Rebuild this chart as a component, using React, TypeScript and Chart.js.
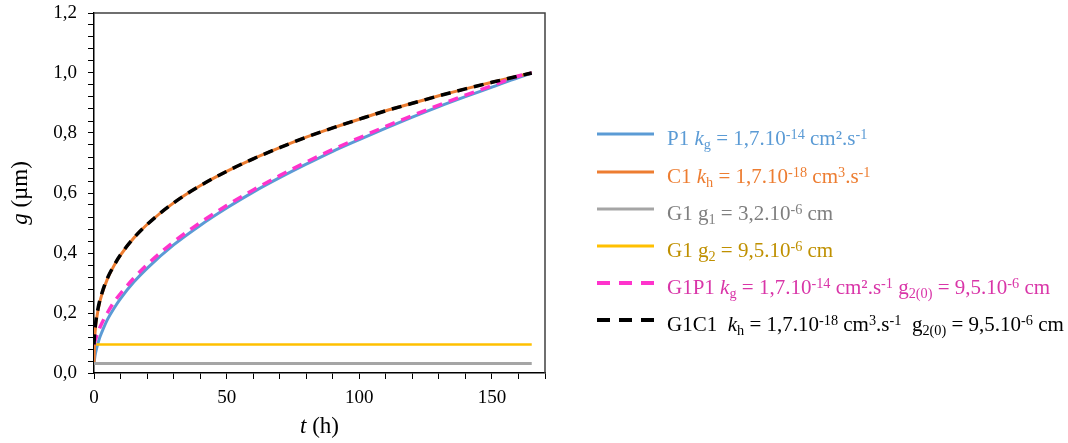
import React, { useEffect, useRef } from "react";
import { Chart, registerables } from "chart.js";

Chart.register(...registerables);

// time points (h)
const times = [0, 0.25, 0.5, 1, 2, 3, 5, 7.5, 10, 15, 20, 30, 40, 50, 60, 70, 80, 90, 100, 110, 120, 130, 140, 150, 160, 165];

// P1 parabolic growth (µm)
const p1Values = [0.03, 0.049, 0.063, 0.083, 0.114, 0.137, 0.177, 0.215, 0.248, 0.303, 0.349, 0.427, 0.492, 0.55, 0.603, 0.651, 0.696, 0.739, 0.778, 0.816, 0.853, 0.888, 0.921, 0.953, 0.985, 1.0];
// C1 cubic growth
const c1Values = [0.03, 0.115, 0.145, 0.182, 0.23, 0.263, 0.312, 0.357, 0.393, 0.45, 0.495, 0.567, 0.624, 0.672, 0.714, 0.751, 0.786, 0.817, 0.846, 0.874, 0.899, 0.924, 0.947, 0.969, 0.99, 1.0];
// G1P1
const g1p1Values = [0.095, 0.103, 0.11, 0.123, 0.147, 0.167, 0.2, 0.236, 0.265, 0.316, 0.361, 0.437, 0.501, 0.558, 0.61, 0.658, 0.703, 0.745, 0.784, 0.822, 0.858, 0.893, 0.926, 0.958, 0.99, 1.0];
// G1C1
const g1c1Values = [0.095, 0.133, 0.157, 0.19, 0.235, 0.267, 0.315, 0.358, 0.394, 0.45, 0.495, 0.567, 0.624, 0.672, 0.714, 0.751, 0.786, 0.817, 0.846, 0.874, 0.899, 0.924, 0.947, 0.969, 0.99, 1.0];

// constant lines
const g1Times = [0, 165];
const g1Values = [0.032, 0.032];
const g2Times = [0.8, 165];
const g2Values = [0.095, 0.095];

const xTickStep = 10;
const xLabelEvery = 50;
const yTickStep = 0.04;

const BLUE = "#5B9BD5";
const ORANGE = "#ED7D31";
const GREY = "#A5A5A5";
const YELLOW = "#FFC000";
const PINK = "#FF33CC";
const BLACK = "#000000";

const FONT = "'Liberation Serif', 'Times New Roman', serif";

function pts(xs: number[], ys: number[]) {
  return xs.map((x, i) => ({ x, y: ys[i] }));
}

const axisTitlePlugin = {
  id: "axisTitles",
  afterDraw(chart: any) {
    const ctx = chart.ctx as CanvasRenderingContext2D;
    const ca = chart.chartArea;
    ctx.save();
    // frame
    ctx.strokeStyle = "#404040";
    ctx.lineWidth = 1.5;
    ctx.beginPath();
    ctx.moveTo(ca.left, ca.top);
    ctx.lineTo(ca.right, ca.top);
    ctx.lineTo(ca.right, ca.bottom);
    ctx.stroke();
    ctx.fillStyle = "#000";
    ctx.textBaseline = "alphabetic";
    const drawParts = (parts: [string, boolean][], cx: number, cy: number, rotate: boolean) => {
      ctx.save();
      ctx.translate(cx, cy);
      if (rotate) ctx.rotate(-Math.PI / 2);
      let total = 0;
      const widths = parts.map(([t, it]) => {
        ctx.font = `${it ? "italic " : ""}23px ${FONT}`;
        const w = ctx.measureText(t).width;
        total += w;
        return w;
      });
      let x = -total / 2;
      parts.forEach(([t, it], i) => {
        ctx.font = `${it ? "italic " : ""}23px ${FONT}`;
        ctx.textAlign = "left";
        ctx.fillText(t, x, 0);
        x += widths[i];
      });
      ctx.restore();
    };
    drawParts([["t", true], [" (h)", false]], (ca.left + ca.right) / 2, 433, false);
    drawParts([["g", true], [" (µm)", false]], 27, (ca.top + ca.bottom) / 2, true);
    ctx.restore();
  },
};

type Row = { color: string; dash: boolean; textColor: string; content: React.ReactNode };

const subStyle: React.CSSProperties = { fontSize: "0.68em", position: "relative", top: "0.3em", verticalAlign: "baseline" };
const supStyle: React.CSSProperties = { fontSize: "0.68em", position: "relative", top: "-0.45em", verticalAlign: "baseline" };
const Sub = ({ c }: { c: string }) => <span style={subStyle}>{c}</span>;
const Sup = ({ c }: { c: string }) => <span style={supStyle}>{c}</span>;

const legendRows: Row[] = [
  {
    color: BLUE, dash: false, textColor: "#5B9BD5",
    content: <>P1 <i>k</i><Sub c="g" /> = 1,7.10<Sup c="-14" /> cm².s<Sup c="-1" /></>,
  },
  {
    color: ORANGE, dash: false, textColor: "#ED7D31",
    content: <>C1 <i>k</i><Sub c="h" /> = 1,7.10<Sup c="-18" /> cm<Sup c="3" />.s<Sup c="-1" /></>,
  },
  {
    color: GREY, dash: false, textColor: "#7F7F7F",
    content: <>G1 g<Sub c="1" /> = 3,2.10<Sup c="-6" /> cm</>,
  },
  {
    color: YELLOW, dash: false, textColor: "#BF9000",
    content: <>G1 g<Sub c="2" /> = 9,5.10<Sup c="-6" /> cm</>,
  },
  {
    color: PINK, dash: true, textColor: "#D935A8",
    content: <>G1P1 <i>k</i><Sub c="g" /> = 1,7.10<Sup c="-14" /> cm².s<Sup c="-1" /> g<Sub c="2(0)" /> = 9,5.10<Sup c="-6" /> cm</>,
  },
  {
    color: BLACK, dash: true, textColor: "#000000",
    content: <>G1C1{"\u00a0 "}<i>k</i><Sub c="h" /> = 1,7.10<Sup c="-18" /> cm<Sup c="3" />.s<Sup c="-1" />{"\u00a0 "}g<Sub c="2(0)" /> = 9,5.10<Sup c="-6" /> cm</>,
  },
];
const legendCenters = [134, 172, 209, 246, 283, 320];

export default function App() {
  const ref = useRef<HTMLCanvasElement | null>(null);
  useEffect(() => {
    if (!ref.current) return;
    const common = { pointRadius: 0, fill: false, cubicInterpolationMode: "monotone" as const };
    const chart = new Chart(ref.current, {
      type: "line",
      data: {
        datasets: [
          { label: "P1", data: pts(times, p1Values), borderColor: BLUE, borderWidth: 3, order: 5, ...common },
          { label: "C1", data: pts(times, c1Values), borderColor: ORANGE, borderWidth: 3, order: 4, ...common },
          { label: "G1 g1", data: pts(g1Times, g1Values), borderColor: GREY, borderWidth: 3, order: 3, ...common },
          { label: "G1 g2", data: pts(g2Times, g2Values), borderColor: YELLOW, borderWidth: 2.5, order: 2, ...common },
          { label: "G1P1", data: pts(times, g1p1Values), borderColor: PINK, borderWidth: 3.5, borderDash: [10, 7], order: 1, ...common },
          { label: "G1C1", data: pts(times, g1c1Values), borderColor: BLACK, borderWidth: 3.5, borderDash: [10, 7], order: 0, ...common },
        ],
      },
      options: {
        responsive: false,
        animation: false,
        devicePixelRatio: 1,
        events: [],
        layout: { padding: { top: 13, right: 523, left: 0, bottom: 0 } },
        plugins: { legend: { display: false }, tooltip: { enabled: false } },
        scales: {
          x: {
            type: "linear",
            min: 0,
            max: 170,
            afterFit: (s: any) => { s.height = 70; s.paddingLeft = 0; s.paddingRight = 0; },
            grid: { display: true, drawOnChartArea: false, drawTicks: true, tickLength: 6, tickColor: "#000", tickWidth: 1 },
            border: { display: true, color: "#000", width: 1.5 },
            ticks: {
              stepSize: xTickStep,
              autoSkip: false,
              maxRotation: 0,
              padding: 8,
              color: "#000",
              font: { family: FONT, size: 19 },
              callback: (v: any) => (Number(v) % xLabelEvery === 0 ? String(v) : ""),
            },
          },
          y: {
            type: "linear",
            min: 0,
            max: 1.2,
            afterFit: (s: any) => { s.width = 94; s.paddingTop = 0; s.paddingBottom = 0; },
            grid: { display: true, drawOnChartArea: false, drawTicks: true, tickLength: 6, tickColor: "#000", tickWidth: 1 },
            border: { display: true, color: "#000", width: 1.5 },
            ticks: {
              stepSize: yTickStep,
              autoSkip: false,
              padding: 11,
              color: "#000",
              font: { family: FONT, size: 19 },
              callback: (v: any) => {
                const n = Math.round(Number(v) * 100);
                return n % 20 === 0 ? (n / 100).toFixed(1).replace(".", ",") : "";
              },
            },
          },
        },
      },
      plugins: [axisTitlePlugin],
    } as any);
    return () => chart.destroy();
  }, []);

  return (
    <div style={{ position: "fixed", left: 0, top: 0, width: 1068, height: 443, background: "#fff", overflow: "hidden" }}>
      <canvas ref={ref} width={1068} height={443} style={{ position: "absolute", left: 0, top: 0, width: 1068, height: 443 }} />
      {legendRows.map((r, i) => (
        <div key={i} style={{ position: "absolute", left: 597, top: legendCenters[i] - 11, height: 22, display: "flex", alignItems: "center" }}>
          <svg width={57} height={22} style={{ display: "block" }}>
            <line x1={0} y1={11} x2={57} y2={11} stroke={r.color} strokeWidth={r.dash ? 4 : 3} strokeDasharray={r.dash ? "13 9" : undefined} />
          </svg>
        </div>
      ))}
      {legendRows.map((r, i) => (
        <div
          key={"t" + i}
          style={{
            position: "absolute",
            left: 667,
            top: legendCenters[i] - 8,
            height: 24,
            lineHeight: "24px",
            fontFamily: FONT,
            fontSize: 21,
            color: r.textColor,
            whiteSpace: "nowrap",
          }}
        >
          {r.content}
        </div>
      ))}
    </div>
  );
}
